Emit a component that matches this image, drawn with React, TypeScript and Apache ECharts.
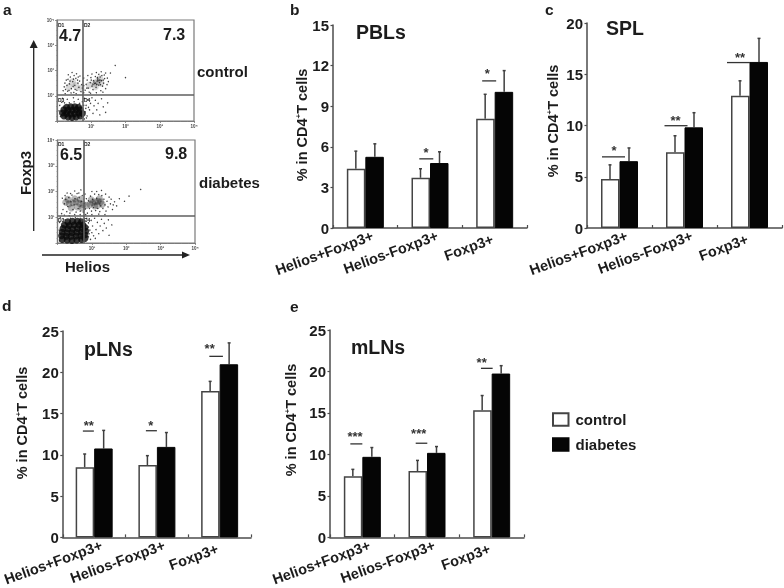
import React, { useEffect, useRef } from "react";
import * as echarts from "echarts";

const FONT = '"Liberation Sans", Arial, sans-serif';
const INK = "#1c1c1c";
const categories = ["Helios+Foxp3+", "Helios-Foxp3+", "Foxp3+"];

const pblsControl = [4.38, 3.71, 8.07];
const pblsControlTop = [5.68, 4.38, 9.88];
const pblsDiabetes = [5.26, 4.8, 10.06];
const pblsDiabetesTop = [6.22, 5.63, 11.63];
const pblsSig = [null, 5.11, 10.87];
const pblsStars = ["", "*", "*"];

const splControl = [4.77, 7.39, 12.9];
const splControlTop = [6.16, 9.0, 14.36];
const splDiabetes = [6.52, 9.82, 16.2];
const splDiabetesTop = [7.81, 11.25, 18.5];
const splSig = [6.94, 9.98, 16.14];
const splStars = ["*", "**", "**"];

const plnsControl = [8.5, 8.77, 17.74];
const plnsControlTop = [10.1, 9.9, 18.9];
const plnsDiabetes = [10.77, 10.96, 20.97];
const plnsDiabetesTop = [12.96, 12.7, 23.56];
const plnsSig = [12.88, 12.92, 21.93];
const plnsStars = ["**", "*", "**"];

const mlnsControl = [7.36, 8.0, 15.33];
const mlnsControlTop = [8.2, 9.28, 17.1];
const mlnsDiabetes = [9.71, 10.19, 19.75];
const mlnsDiabetesTop = [10.83, 10.95, 20.7];
const mlnsSig = [11.27, 11.35, 20.38];
const mlnsStars = ["***", "***", "**"];

// Flow plots: estimated event positions in decades (x, y): dense cores, soft clouds and loose events.
const controlCore = [
  [0.2, 0.2], [0.32, 0.16], [0.44, 0.14], [0.56, 0.16], [0.68, 0.2], [0.16, 0.32], [0.28, 0.3], [0.4, 0.28],
  [0.52, 0.3], [0.64, 0.32], [0.74, 0.3], [0.2, 0.44], [0.32, 0.42], [0.44, 0.42], [0.56, 0.44], [0.68, 0.44],
  [0.28, 0.54], [0.4, 0.56], [0.52, 0.56], [0.63, 0.54],
];
const controlCloud = [
  [0.35, 1.35], [0.55, 1.4], [0.7, 1.3], [0.95, 1.42], [1.1, 1.5], [1.2, 1.58], [1.28, 1.5], [1.12, 1.36], [1.25, 1.68], [0.45, 1.55],
];
const controlDots = [
  [0.21, 1.35], [0.27, 1.62], [0.31, 1.18], [0.36, 1.47], [0.39, 1.74], [0.42, 1.28], [0.46, 1.56], [0.49, 1.13],
  [0.52, 1.41], [0.55, 1.69], [0.58, 1.22], [0.61, 1.5], [0.64, 1.33], [0.67, 1.78], [0.7, 1.16], [0.72, 1.44],
  [0.25, 1.25], [0.33, 1.83], [0.44, 1.92], [0.57, 1.87], [0.29, 1.41], [0.41, 1.11], [0.47, 1.37], [0.53, 1.25],
  [0.6, 1.62], [0.35, 1.21], [0.66, 1.58], [0.74, 1.3], [0.5, 1.8], [0.38, 1.58], [0.82, 1.22], [0.85, 1.45],
  [0.88, 1.62], [0.91, 1.3], [0.94, 1.14], [0.97, 1.52], [0.99, 1.72], [1.02, 1.38], [1.05, 1.24], [1.07, 1.6],
  [1.1, 1.48], [1.12, 1.76], [1.14, 1.33], [1.17, 1.58], [1.19, 1.66], [1.22, 1.42], [1.24, 1.52], [1.26, 1.74],
  [1.28, 1.2], [1.3, 1.6], [1.33, 1.38], [1.36, 1.5], [1.39, 1.68], [1.42, 1.28], [1.46, 1.44], [1.5, 1.56],
  [1.13, 1.5], [1.16, 1.44], [1.2, 1.6], [1.18, 1.72], [1.25, 1.62], [1.08, 1.54], [1.31, 1.8], [1.22, 1.85],
  [1.56, 1.9], [1.7, 2.2], [1.42, 1.9], [2.0, 1.72], [0.8, 0.9], [0.85, 0.62], [0.9, 0.84], [0.95, 0.44],
  [0.98, 0.7], [1.02, 0.92], [1.05, 0.3], [1.08, 0.6], [1.12, 0.82], [1.16, 0.44], [1.2, 0.7], [1.25, 0.24],
  [1.3, 0.88], [1.35, 0.56], [1.42, 0.34], [1.48, 0.72], [0.16, 0.9], [0.3, 0.86], [0.48, 0.92], [0.62, 0.86],
  [0.74, 0.76], [0.82, 0.36], [0.88, 0.2], [0.92, 0.54], [0.06, 0.4], [0.08, 0.62], [0.1, 0.18], [0.14, 0.74],
  [0.22, 0.72], [0.36, 0.72], [0.5, 0.76], [0.66, 0.7], [0.78, 0.62], [0.84, 0.5], [0.86, 0.12], [0.8, 0.08],
  [0.24, 1.08], [0.56, 1.08], [0.78, 1.12], [0.98, 1.1], [1.15, 1.12], [1.34, 1.14], [0.18, 1.2], [0.23, 1.5],
  [0.32, 1.65], [0.48, 1.66], [0.62, 1.74], [0.78, 1.7], [0.9, 1.8], [1.02, 1.86], [1.15, 1.92], [1.29, 1.95],
  [1.38, 1.82], [1.47, 1.7], [0.78, 1.4], [0.87, 1.3], [1.0, 1.62], [1.05, 1.46], [1.27, 1.44], [1.35, 1.62],
];
const diabetesCore = [
  [0.14, 0.14], [0.28, 0.12], [0.42, 0.1], [0.56, 0.12], [0.7, 0.14], [0.8, 0.18], [0.12, 0.28], [0.26, 0.26],
  [0.4, 0.26], [0.54, 0.27], [0.68, 0.28], [0.8, 0.32], [0.14, 0.42], [0.28, 0.4], [0.42, 0.4], [0.56, 0.42],
  [0.7, 0.42], [0.82, 0.46], [0.16, 0.56], [0.3, 0.55], [0.44, 0.54], [0.58, 0.56], [0.72, 0.56], [0.8, 0.6],
  [0.2, 0.7], [0.34, 0.68], [0.48, 0.7], [0.62, 0.7], [0.74, 0.7], [0.3, 0.82], [0.44, 0.84], [0.58, 0.84], [0.7, 0.82],
];
const diabetesCloud = [
  [0.24, 1.58], [0.34, 1.52], [0.44, 1.56], [0.54, 1.6], [0.64, 1.54], [0.74, 1.5], [0.84, 1.46], [0.94, 1.5],
  [1.02, 1.56], [1.1, 1.6], [1.18, 1.62], [1.26, 1.6], [1.3, 1.5], [1.16, 1.46], [1.22, 1.72], [1.08, 1.44],
  [0.4, 1.36], [0.58, 1.4], [0.72, 1.36], [0.3, 1.7], [0.5, 1.72], [0.66, 1.7], [0.98, 1.68],
];
const diabetesDots = [
  [0.16, 1.3], [0.2, 1.52], [0.24, 1.7], [0.27, 1.22], [0.3, 1.42], [0.33, 1.76], [0.36, 1.16], [0.39, 1.6],
  [0.42, 1.86], [0.45, 1.3], [0.48, 1.48], [0.51, 1.72], [0.54, 1.2], [0.57, 1.92], [0.6, 1.34], [0.63, 1.76],
  [0.66, 1.24], [0.69, 1.62], [0.72, 1.84], [0.75, 1.2], [0.78, 1.54], [0.81, 1.32], [0.84, 1.72], [0.87, 1.16],
  [0.9, 1.64], [0.93, 1.34], [0.96, 1.82], [0.99, 1.24], [1.02, 1.7], [1.05, 1.38], [1.08, 1.9], [1.11, 1.26],
  [1.14, 1.74], [1.17, 1.34], [1.2, 1.88], [1.23, 1.22], [1.26, 1.44], [1.29, 1.84], [1.32, 1.34], [1.35, 1.7],
  [1.38, 1.48], [1.41, 1.24], [1.44, 1.62], [1.47, 1.4], [1.5, 1.78], [1.54, 1.52], [1.6, 1.3], [1.66, 1.6],
  [1.72, 1.44], [1.8, 1.72], [1.95, 1.62], [2.08, 1.82], [2.42, 2.08], [0.28, 1.94], [0.5, 2.02], [0.68, 2.06],
  [1.0, 2.0], [1.28, 2.04], [0.85, 0.96], [0.9, 0.78], [0.94, 0.5], [0.98, 0.88], [1.02, 0.66], [1.05, 0.28],
  [1.08, 0.96], [1.12, 0.52], [1.16, 0.8], [1.2, 0.36], [1.24, 0.66], [1.28, 0.92], [1.32, 0.48], [1.36, 0.76],
  [1.42, 0.58], [1.48, 0.9], [1.5, 0.3], [1.58, 0.7], [0.9, 0.24], [0.96, 0.14], [1.0, 0.4], [1.1, 0.18],
  [0.05, 0.5], [0.06, 0.8], [0.08, 1.0], [0.12, 1.14], [0.2, 1.08], [0.34, 1.06], [0.5, 1.1], [0.66, 1.1],
  [0.82, 1.1], [1.0, 1.1], [1.2, 1.12], [1.38, 1.1], [0.22, 0.9], [0.38, 0.96], [0.52, 0.98], [0.66, 0.96],
  [0.8, 0.86], [0.9, 0.62], [0.92, 0.36], [0.06, 0.08], [0.14, 1.74], [0.22, 1.84], [0.38, 1.92], [0.62, 1.94],
  [0.8, 1.9], [1.14, 2.0], [1.4, 1.9], [1.56, 1.7], [1.62, 1.48],
];

const sup = ["", "\u00b9", "\u00b2", "\u00b3", "\u2074"];

type Panel = {
  title: string; tx: number; ty: number; letter: string; lx: number; ly: number;
  left: number; top: number; width: number; height: number; max: number; interval: number;
  c: number[]; ct: number[]; d: number[]; dt: number[]; sig: (number | null)[]; stars: string[];
  sigGeom: number[][]; nameX: number; nameY: number;
};

const panels: Panel[] = [
  { title: "PBLs", tx: 356, ty: 32, letter: "b", lx: 290, ly: 9, left: 333, top: 25, width: 194, height: 203, max: 15, interval: 3,
    c: pblsControl, ct: pblsControlTop, d: pblsDiabetes, dt: pblsDiabetesTop, sig: pblsSig, stars: pblsStars,
    sigGeom: [[0, 0, 0, 0], [-10.7, 3.3, -4, 7], [-12.5, 1.5, -7.5, 8]], nameX: 302, nameY: 125 },
  { title: "SPL", tx: 606, ty: 28, letter: "c", lx: 545, ly: 9, left: 587, top: 23, width: 195, height: 205, max: 20, interval: 5,
    c: splControl, ct: splControlTop, d: splDiabetes, dt: splDiabetesTop, sig: splSig, stars: splStars,
    sigGeom: [[-17.5, 5.5, -5.5, 7], [-20, 3, -9, 6.5], [-22.5, 0.5, -9.5, 6.5]], nameX: 553, nameY: 121 },
  { title: "pLNs", tx: 84, ty: 349, letter: "d", lx: 2, ly: 305, left: 59, top: 331, width: 192, height: 209, max: 25, interval: 5,
    c: plnsControl, ct: plnsControlTop, d: plnsDiabetes, dt: plnsDiabetesTop, sig: plnsSig, stars: plnsStars,
    sigGeom: [[-11.3, -0.3, -5.3, 6.5], [-11, 0, -6, 6.5], [-10.3, 3.3, -10, 9]], nameX: 22, nameY: 423 },
  { title: "mLNs", tx: 351, ty: 347, letter: "e", lx: 290, ly: 306, left: 330, top: 330, width: 194, height: 209, max: 25, interval: 5,
    c: mlnsControl, ct: mlnsControlTop, d: mlnsDiabetes, dt: mlnsDiabetesTop, sig: mlnsSig, stars: mlnsStars,
    sigGeom: [[-12, 0, -7.3, 8.7], [-11.3, 0.3, -8.3, 11], [-10.7, 1, -10, 7.3]], nameX: 291, nameY: 420 },
];

const flows = [
  { left: 57, top: 20, width: 137, height: 101, core: controlCore, dots: controlDots, cloud: controlCloud, cloudOpacity: 0.16, gx: 0.76, gy: 1.02 },
  { left: 57.5, top: 140, width: 137.5, height: 103, core: diabetesCore, dots: diabetesDots, cloud: diabetesCloud, cloudOpacity: 0.3, gx: 0.75, gy: 1.05 },
];

const flowTexts: [string, number, number, number][] = [
  ["D1", 58, 24.5, 5], ["D2", 84, 24.5, 5], ["D3", 58, 99.5, 5], ["D4", 84, 99.5, 5],
  ["D1", 58, 143.5, 5], ["D2", 84, 143.5, 5], ["D3", 58, 220, 5], ["D4", 84, 220, 5],
  ["4.7", 59, 35.5, 16], ["7.3", 163, 34, 16], ["6.5", 60, 154.5, 16], ["9.8", 165, 153, 16],
  ["control", 197, 71, 15], ["diabetes", 199, 182, 15],
];

function txt(text: string, x: number, y: number, size: number, extra: any = {}) {
  return {
    type: "text", x, y, silent: true, ...extra,
    style: { text, fill: INK, fontFamily: FONT, fontWeight: "bold", fontSize: size, align: "left", verticalAlign: "middle", ...(extra.style || {}) },
  };
}

function errorRenderer(offset: number) {
  return (_p: any, api: any) => {
    const a = api.coord([api.value(0), api.value(1)]);
    const b = api.coord([api.value(0), api.value(2)]);
    const x = a[0] + offset;
    const style = { stroke: "#3f3f3f", lineWidth: 1.5 };
    return {
      type: "group",
      children: [
        { type: "line", shape: { x1: x, y1: a[1], x2: x, y2: b[1] }, style },
        { type: "line", shape: { x1: x - 1.5, y1: b[1], x2: x + 1.5, y2: b[1] }, style },
      ],
    };
  };
}

function buildOption() {
  const grid: any[] = [];
  const xAxis: any[] = [];
  const yAxis: any[] = [];
  const series: any[] = [];
  const graphic: any[] = [];

  flows.forEach((f, i) => {
    grid.push({ left: f.left, top: f.top, width: f.width, height: f.height, show: true, borderColor: "#7a7a7a", borderWidth: 1.2, backgroundColor: "#fff" });
    const base = {
      type: "value", min: 0, max: 4, interval: 1, splitLine: { show: false },
      axisLine: { lineStyle: { color: "#7a7a7a", width: 1.2 } },
      axisTick: { length: 2, lineStyle: { color: "#777", width: 0.8 } },
      minorTick: { show: true, splitNumber: 5, length: 1, lineStyle: { color: "#888", width: 0.6 } },
      axisLabel: { fontSize: 4.5, fontFamily: FONT, fontWeight: "bold", color: "#444", margin: 3, formatter: (v: number) => (v === 0 ? "" : "10" + sup[v]) },
    };
    xAxis.push({ ...base, gridIndex: i });
    yAxis.push({ ...base, gridIndex: i });
    const common = { type: "scatter", xAxisIndex: i, yAxisIndex: i, silent: true };
    series.push({ ...common, name: "flow-cloud-" + i, data: f.cloud, symbolSize: 7, itemStyle: { color: "#111", opacity: f.cloudOpacity } });
    series.push({ ...common, name: "flow-dots-" + i, data: f.dots, symbolSize: 1.4, itemStyle: { color: "#111", opacity: 0.8 } });
    series.push({
      ...common, name: "flow-core-" + i, data: f.core, symbolSize: 7, itemStyle: { color: "#0a0a0a" },
      markLine: {
        silent: true, symbol: "none", label: { show: false }, animation: false,
        lineStyle: { color: "#5f5f5f", width: 1.6, type: "solid" },
        data: [{ xAxis: f.gx }, { yAxis: f.gy }],
      },
    });
  });

  panels.forEach((p, idx) => {
    const gi = idx + flows.length;
    grid.push({ left: p.left, top: p.top, width: p.width, height: p.height });
    xAxis.push({
      type: "category", gridIndex: gi,
      data: categories.map((c, k) => ({
        value: c,
        textStyle: k === 2 ? { padding: [0, 2, -10, 0] } : { padding: [0, -8, 0, 0] },
      })),
      axisLine: { lineStyle: { color: "#4d4d4d", width: 1.5 } },
      axisTick: { show: true, inside: true, length: 3, alignWithLabel: false, lineStyle: { color: "#4d4d4d", width: 1.2 } },
      axisLabel: { interval: 0, rotate: 20, margin: 10, fontFamily: FONT, fontWeight: "bold", fontSize: 14.5, color: INK, align: "right", verticalAlign: "middle" },
      splitLine: { show: false },
    });
    yAxis.push({
      type: "value", gridIndex: gi, min: 0, max: p.max, interval: p.interval, splitLine: { show: false },
      axisLine: { show: true, lineStyle: { color: "#4d4d4d", width: 1.5 } },
      axisTick: { show: true, length: 2.5, lineStyle: { color: "#4d4d4d", width: 1.2 } },
      axisLabel: { fontFamily: FONT, fontWeight: "bold", fontSize: 15, color: INK, margin: 4 },
    });
    const barCommon = { type: "bar", xAxisIndex: gi, yAxisIndex: gi, barWidth: 18.5, barGap: "0%", silent: true };
    series.push({ ...barCommon, name: "control", data: p.c, itemStyle: { color: "#fff", borderColor: "#444", borderWidth: 1.5 } });
    series.push({ ...barCommon, name: "diabetes", data: p.d, itemStyle: { color: "#050505", borderColor: "#050505", borderWidth: 1 } });
    const errCommon = { type: "custom", xAxisIndex: gi, yAxisIndex: gi, silent: true, z: 1, encode: { x: 0, y: [1, 2] } };
    series.push({ ...errCommon, name: "err-c-" + idx, data: p.c.map((v, k) => [k, v, p.ct[k]]), renderItem: errorRenderer(-9.5) });
    series.push({ ...errCommon, name: "err-d-" + idx, data: p.d.map((v, k) => [k, v, p.dt[k]]), renderItem: errorRenderer(9.5) });
    series.push({
      type: "custom", name: "sig-" + idx, xAxisIndex: gi, yAxisIndex: gi, silent: true, z: 5, encode: { x: 0, y: 1 },
      data: p.sig.map((v, k) => [k, v]).filter((r) => r[1] != null),
      renderItem: (_q: any, api: any) => {
        const k = api.value(0);
        const pt = api.coord([k, api.value(1)]);
        const g = p.sigGeom[k];
        return {
          type: "group",
          children: [
            { type: "line", shape: { x1: pt[0] + g[0], y1: pt[1], x2: pt[0] + g[1], y2: pt[1] }, style: { stroke: "#333", lineWidth: 1.3 } },
            { type: "text", x: pt[0] + g[2], y: pt[1] - g[3] + 1, style: { text: p.stars[k], fill: "#333", fontFamily: FONT, fontWeight: "bold", fontSize: 13, align: "center", verticalAlign: "middle" } },
          ],
        };
      },
    });
    graphic.push(txt(p.title, p.tx, p.ty, 19.5));
    graphic.push(txt(p.letter, p.lx, p.ly, 15.5));
    graphic.push(
      txt("% in CD4{s|+}T cells", p.nameX, p.nameY, 14.5, {
        rotation: Math.PI / 2,
        style: {
          align: "center",
          rich: { s: { fontSize: 8, fontWeight: "bold", fontFamily: FONT, fill: INK, verticalAlign: "top", lineHeight: 15 } },
        },
      })
    );
  });

  graphic.push(txt("a", 3, 9, 15.5));
  flowTexts.forEach(([t, x, y, s]) => graphic.push(txt(t, x, y, s)));
  graphic.push(txt("Foxp3", 25, 173, 15, { rotation: Math.PI / 2, style: { align: "center" } }));
  graphic.push(txt("Helios", 65, 266, 15));
  const line = { stroke: "#222", lineWidth: 1.3 };
  graphic.push({ type: "line", silent: true, shape: { x1: 33.7, y1: 231, x2: 33.7, y2: 46 }, style: line });
  graphic.push({ type: "polygon", silent: true, shape: { points: [[33.7, 40], [29.7, 48], [37.7, 48]] }, style: { fill: "#222" } });
  graphic.push({ type: "line", silent: true, shape: { x1: 42, y1: 255, x2: 184, y2: 255 }, style: line });
  graphic.push({ type: "polygon", silent: true, shape: { points: [[190, 255], [182, 251.5], [182, 258.5]] }, style: { fill: "#222" } });

  return {
    animation: false,
    backgroundColor: "#fff",
    grid, xAxis, yAxis, series, graphic,
    legend: {
      data: [{ name: "control", icon: "rect" }, { name: "diabetes", icon: "rect" }],
      orient: "vertical", left: 547, top: 407, itemWidth: 15.5, itemHeight: 12.5,
      itemGap: 10, selectedMode: false,
      textStyle: { fontFamily: FONT, fontWeight: "bold", fontSize: 15, color: INK, padding: [0, 0, 0, 2] },
    },
  };
}

export default function App() {
  const ref = useRef<HTMLDivElement>(null);
  useEffect(() => {
    const chart = echarts.init(ref.current!, undefined, { renderer: "svg", width: 784, height: 588 });
    chart.setOption(buildOption() as any);
    return () => chart.dispose();
  }, []);
  return <div ref={ref} style={{ position: "fixed", left: 0, top: 0, width: 784, height: 588, background: "#fff", filter: "blur(0.45px)" }} />;
}
